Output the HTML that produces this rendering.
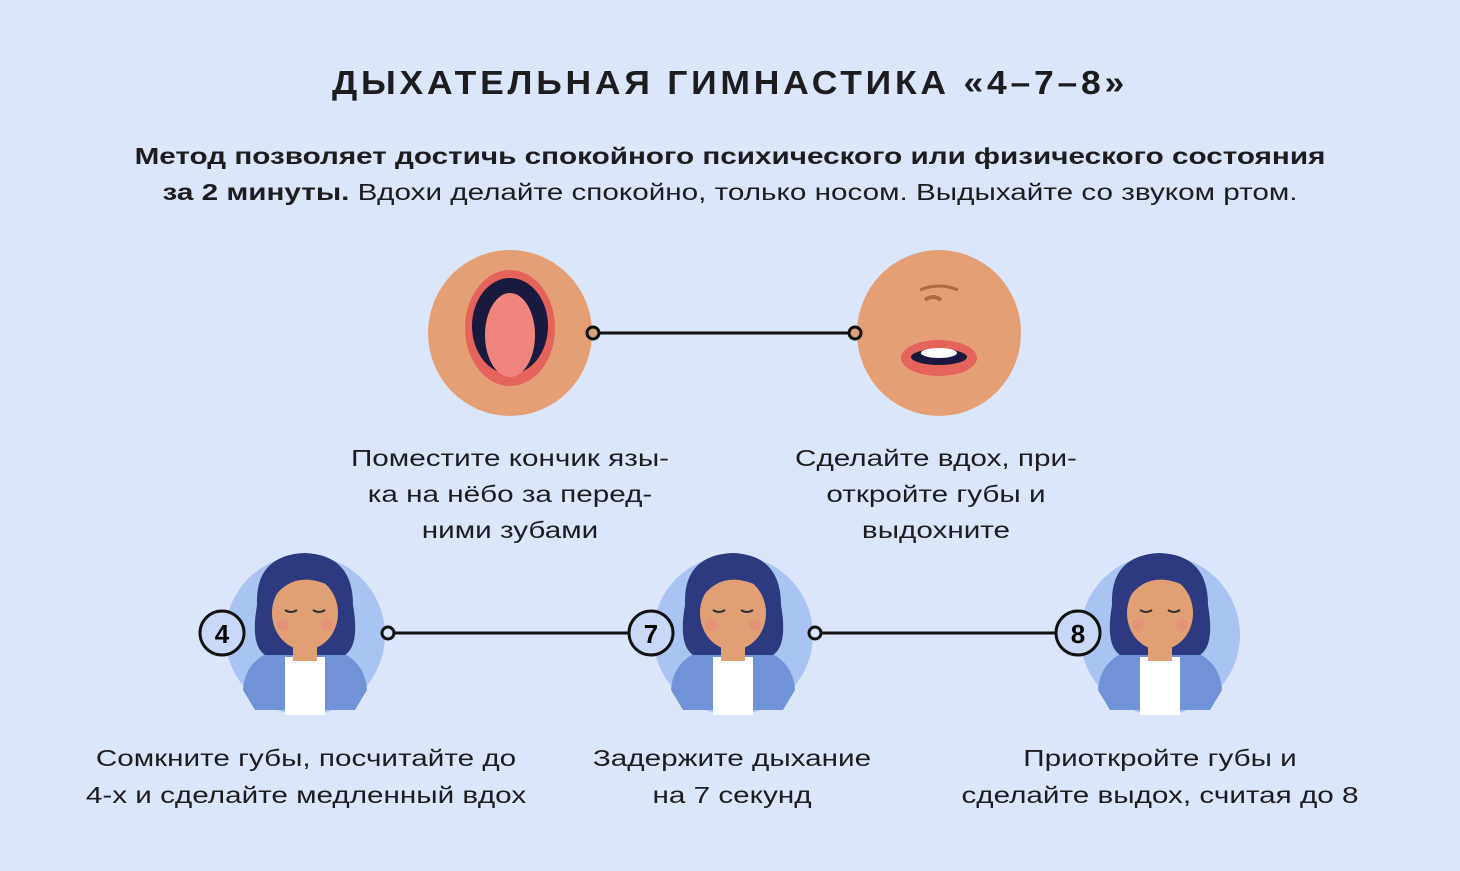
<!DOCTYPE html>
<html><head><meta charset="utf-8"><style>
body{margin:0;width:1460px;height:871px;background:#dce6fb;font-family:"Liberation Sans",sans-serif;color:#1d1d1f;position:relative;overflow:hidden}
.t{position:absolute;text-align:center;white-space:nowrap;transform-origin:center}
.w{transform:scaleX(1.29)}
</style></head><body>
<div class="t" style="left:0;width:1460px;top:64px;font-size:33px;font-weight:bold;letter-spacing:3.5px;transform:scaleX(1.076)">ДЫХАТЕЛЬНАЯ ГИМНАСТИКА «4–7–8»</div>
<div class="t w" style="left:0;width:1460px;top:138px;font-size:23px;line-height:36px"><b>Метод позволяет достичь спокойного психического или физического состояния</b><br><b>за 2 минуты.</b> Вдохи делайте спокойно, только носом. Выдыхайте со звуком ртом.</div>
<svg style="position:absolute;left:0;top:0" width="1460" height="871">
<defs>
<g id="girl">
<circle r="80" fill="#a9c4f3"/>
<path d="M-62 55 Q-60 25 -30 15 L30 15 Q60 25 62 55 L50 75 L-50 75Z" fill="#6f93d6"/>
<rect x="-20" y="22" width="40" height="58" fill="#fff"/>
<path d="M-48 -30 Q-50 -80 0 -82 Q48 -80 48 -30 Q55 10 40 20 L-40 20 Q-55 10 -48 -30Z" fill="#2e3a80"/>
<rect x="-12" y="0" width="24" height="26" fill="#e0a074"/>
<ellipse cx="0" cy="-22" rx="33" ry="37" fill="#e0a074"/>
<path d="M-33 -35 Q-10 -70 33 -45 L33 -60 Q0 -85 -35 -55Z" fill="#2e3a80"/>
<path d="M-20 -25 q6 4 12 0 M8 -25 q6 4 12 0" stroke="#333" stroke-width="2" fill="none"/>
<circle cx="-22" cy="-10" r="6" fill="#e58b7a" opacity=".7"/><circle cx="22" cy="-10" r="6" fill="#e58b7a" opacity=".7"/>
</g>
</defs>
<line x1="593" y1="333" x2="855" y2="333" stroke="#111" stroke-width="3"/>
<ellipse cx="510" cy="333" rx="82" ry="83" fill="#e4a074"/>
<ellipse cx="510" cy="328" rx="45" ry="58" fill="#e4635a"/>
<ellipse cx="510" cy="326" rx="38" ry="48" fill="#1a1a3e"/>
<ellipse cx="510" cy="335" rx="25" ry="42" fill="#f0857d"/>
<ellipse cx="939" cy="333" rx="82" ry="83" fill="#e4a074"/>
<path d="M925 300 q8-6 16 0" stroke="#b4683f" stroke-width="4" fill="none"/>
<path d="M920 290 q19-8 38 0" stroke="#b4683f" stroke-width="3" fill="none"/>
<ellipse cx="939" cy="358" rx="38" ry="18" fill="#e4635a"/>
<ellipse cx="939" cy="357" rx="28" ry="8" fill="#1a1a3e"/>
<ellipse cx="939" cy="353" rx="18" ry="5" fill="#fff"/>
<circle cx="593" cy="333" r="6" fill="#d9a27a" stroke="#111" stroke-width="3"/>
<circle cx="855" cy="333" r="6" fill="#d9a27a" stroke="#111" stroke-width="3"/>
<line x1="388" y1="633" x2="630" y2="633" stroke="#111" stroke-width="3"/>
<line x1="815" y1="633" x2="1056" y2="633" stroke="#111" stroke-width="3"/>
<use href="#girl" x="305" y="635"/>
<use href="#girl" x="733" y="635"/>
<use href="#girl" x="1160" y="635"/>
<circle cx="388" cy="633" r="6" fill="#dce6fb" stroke="#111" stroke-width="3"/>
<circle cx="815" cy="633" r="6" fill="#dce6fb" stroke="#111" stroke-width="3"/>
<g font-family="Liberation Sans" font-weight="bold" font-size="26" text-anchor="middle">
<circle cx="222" cy="633" r="22" fill="#c9d8f7" stroke="#111" stroke-width="3"/><text x="222" y="643">4</text>
<circle cx="651" cy="633" r="22" fill="#c9d8f7" stroke="#111" stroke-width="3"/><text x="651" y="643">7</text>
<circle cx="1078" cy="633" r="22" fill="#c9d8f7" stroke="#111" stroke-width="3"/><text x="1078" y="643">8</text>
</g>
</svg>
<div class="t w" style="left:310px;width:400px;top:440px;font-size:23px;line-height:36px">Поместите кончик язы-<br>ка на нёбо за перед-<br>ними зубами</div>
<div class="t w" style="left:736px;width:400px;top:440px;font-size:23px;line-height:36px">Сделайте вдох, при-<br>откройте губы и<br>выдохните</div>
<div class="t w" style="left:56px;width:500px;top:740px;font-size:23px;line-height:37px">Сомкните губы, посчитайте до<br>4-х и сделайте медленный вдох</div>
<div class="t w" style="left:482px;width:500px;top:740px;font-size:23px;line-height:37px">Задержите дыхание<br>на 7 секунд</div>
<div class="t w" style="left:910px;width:500px;top:740px;font-size:23px;line-height:37px">Приоткройте губы и<br>сделайте выдох, считая до 8</div>
</body></html>
